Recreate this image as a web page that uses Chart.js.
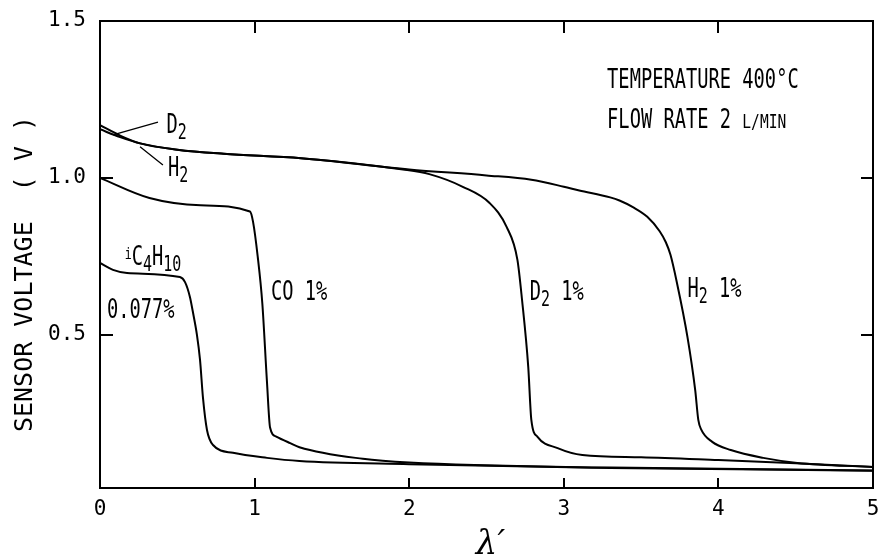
<!DOCTYPE html>
<html>
<head>
<meta charset="utf-8">
<title>Sensor voltage vs lambda</title>
<script src="https://cdn.jsdelivr.net/npm/chart.js@4.4.1/dist/chart.umd.min.js"></script>
<style>
  html, body { margin: 0; padding: 0; background: #fff; }
  #wrap { width: 881px; height: 555px; }
</style>
</head>
<body>
<div id="wrap"><canvas id="chart" width="881" height="555"></canvas></div>
<script>
// values (x = lambda', y = sensor voltage in V)
const h2X  = [0, 0.13, 0.26, 0.5, 0.8, 1.3, 2.0, 2.5, 2.79, 3.0, 3.1, 3.3, 3.36, 3.45, 3.54, 3.62, 3.66, 3.69, 3.73, 3.80, 3.85, 3.87, 3.89, 3.96, 4.08, 4.29, 4.51, 5.0];
const h2Y  = [1.155, 1.13, 1.11, 1.09, 1.077, 1.063, 1.027, 1.008, 0.994, 0.972, 0.96, 0.938, 0.928, 0.906, 0.876, 0.83, 0.795, 0.755, 0.67, 0.493, 0.324, 0.229, 0.197, 0.159, 0.133, 0.108, 0.092, 0.079];

const d2X  = [0, 0.13, 0.26, 0.5, 0.8, 1.3, 1.96, 2.13, 2.35, 2.52, 2.63, 2.70, 2.73, 2.77, 2.79, 2.83, 2.96, 3.12, 3.5, 4.0, 4.5, 5.0];
const d2Y  = [1.168, 1.135, 1.11, 1.09, 1.077, 1.063, 1.027, 1.012, 0.971, 0.92, 0.844, 0.739, 0.611, 0.398, 0.229, 0.175, 0.139, 0.117, 0.11, 0.101, 0.091, 0.079];

const coX  = [0, 0.32, 0.65, 0.97, 0.99, 1.02, 1.05, 1.08, 1.10, 1.14, 1.23, 1.29, 1.70, 2.0, 3.3, 5.0];
const coY  = [1.0, 0.936, 0.913, 0.893, 0.86, 0.75, 0.60, 0.35, 0.205, 0.176, 0.155, 0.142, 0.105, 0.093, 0.077, 0.068];

const butX = [0, 0.084, 0.175, 0.517, 0.55, 0.582, 0.60, 0.627, 0.647, 0.666, 0.692, 0.731, 0.86, 1.08, 1.29, 2.0, 3.3, 5.0];
const butY = [0.729, 0.707, 0.697, 0.684, 0.668, 0.62, 0.575, 0.50, 0.42, 0.30, 0.197, 0.149, 0.124, 0.108, 0.098, 0.088, 0.076, 0.067];

const xTicks = [0, 1, 2, 3, 4, 5];
const yTicks = [0.5, 1.0, 1.5];

const MONO = '"DejaVu Sans Mono", "Liberation Mono", monospace';

// text placed in data coordinates; parts: [text, style]
const notes = [
  { x: 3.28, y: 1.287, parts: [['TEMPERATURE 400°C']] },
  { x: 3.28, y: 1.159, parts: [['FLOW RATE 2 '], ['L/MIN', 'small']] },
  { x: 0.43, y: 1.143, parts: [['D'], ['2', 'sub']] },
  { x: 0.44, y: 1.006, parts: [['H'], ['2', 'sub']] },
  { x: 0.16, y: 0.723, parts: [['i', 'sup'], ['C'], ['4', 'sub'], ['H'], ['10', 'sub']] },
  { x: 0.045, y: 0.554, parts: [['0.077%']] },
  { x: 1.106, y: 0.611, parts: [['CO 1%']] },
  { x: 2.78, y: 0.611, parts: [['D'], ['2', 'sub'], [' 1%']] },
  { x: 3.80, y: 0.621, parts: [['H'], ['2', 'sub'], [' 1%']] }
];

const leaders = [
  [0.084, 1.137, 0.375, 1.178],
  [0.259, 1.099, 0.407, 1.041]
];

function toPoints(xs, ys) {
  return xs.map((x, i) => ({ x: x, y: ys[i] }));
}

function curve(label, xs, ys) {
  return {
    label: label,
    data: toPoints(xs, ys),
    borderColor: '#000',
    borderWidth: 2,
    pointRadius: 0,
    fill: false,
    cubicInterpolationMode: 'monotone'
  };
}

function drawRich(ctx, x, y, parts, size, sx) {
  ctx.save();
  ctx.translate(x, y);
  ctx.scale(sx, 1);
  ctx.textBaseline = 'alphabetic';
  ctx.textAlign = 'left';
  let cx = 0;
  parts.forEach(p => {
    const style = p[1];
    let fs = size, dy = 0;
    if (style === 'sub') { fs = size * 0.8; dy = 6; }
    if (style === 'sup') { fs = size * 0.62; dy = -6; }
    if (style === 'small') { fs = size * 0.78; }
    ctx.font = fs + 'px ' + MONO;
    ctx.fillText(p[0], cx, dy);
    cx += ctx.measureText(p[0]).width;
  });
  ctx.restore();
}

const framePlugin = {
  id: 'frame',
  beforeDraw(chart) {
    const ctx = chart.ctx;
    ctx.save();
    ctx.fillStyle = '#fff';
    ctx.fillRect(0, 0, chart.width, chart.height);
    ctx.restore();
  },
  afterDraw(chart) {
    const ctx = chart.ctx;
    const a = chart.chartArea;
    const xs = chart.scales.x, ys = chart.scales.y;
    ctx.save();
    ctx.strokeStyle = '#000';
    ctx.fillStyle = '#000';
    ctx.lineWidth = 2;
    ctx.strokeRect(a.left, a.top, a.right - a.left, a.bottom - a.top);

    // inward tick marks
    ctx.beginPath();
    xTicks.slice(1, -1).forEach(v => {
      const px = Math.round(xs.getPixelForValue(v));
      ctx.moveTo(px, a.bottom); ctx.lineTo(px, a.bottom - 10);
      ctx.moveTo(px, a.top); ctx.lineTo(px, a.top + 12);
    });
    yTicks.slice(0, -1).forEach(v => {
      const py = Math.round(ys.getPixelForValue(v));
      ctx.moveTo(a.left, py); ctx.lineTo(a.left + 13, py);
      ctx.moveTo(a.right, py); ctx.lineTo(a.right - 12, py);
    });
    ctx.stroke();

    // leader lines for D2 / H2
    ctx.lineWidth = 1.3;
    ctx.beginPath();
    leaders.forEach(l => {
      ctx.moveTo(xs.getPixelForValue(l[0]), ys.getPixelForValue(l[1]));
      ctx.lineTo(xs.getPixelForValue(l[2]), ys.getPixelForValue(l[3]));
    });
    ctx.stroke();

    notes.forEach(n => {
      drawRich(ctx, xs.getPixelForValue(n.x), ys.getPixelForValue(n.y), n.parts, 26, 0.72);
    });

    // axis titles
    ctx.save();
    ctx.translate(32, 274);
    ctx.rotate(-Math.PI / 2);
    ctx.font = '25px ' + MONO;
    ctx.textAlign = 'center';
    ctx.textBaseline = 'alphabetic';
    ctx.fillText('SENSOR VOLTAGE  ( V )', 0, 0);
    ctx.restore();

    ctx.font = 'italic 34px "DejaVu Serif", serif';
    ctx.textAlign = 'center';
    ctx.textBaseline = 'alphabetic';
    ctx.fillText('λ\u2032', (a.left + a.right) / 2 + 4, 554);
    ctx.restore();
  }
};

new Chart(document.getElementById('chart'), {
  type: 'line',
  data: {
    datasets: [
      curve('H2 1%', h2X, h2Y),
      curve('D2 1%', d2X, d2Y),
      curve('CO 1%', coX, coY),
      curve('iC4H10 0.077%', butX, butY)
    ]
  },
  options: {
    responsive: false,
    animation: false,
    devicePixelRatio: 1,
    layout: { padding: { top: 21, right: 8, left: 0, bottom: 0 } },
    plugins: {
      legend: { display: false },
      tooltip: { enabled: false }
    },
    scales: {
      x: {
        type: 'linear',
        min: 0,
        max: 5,
        afterBuildTicks: s => { s.ticks = xTicks.map(v => ({ value: v })); },
        ticks: {
          color: '#000',
          font: { family: MONO, size: 21 },
          padding: 9,
          maxRotation: 0,
          callback: v => String(v)
        },
        grid: { display: false, drawTicks: false },
        border: { display: false },
        afterFit: s => { s.height = 67; s.paddingLeft = 0; s.paddingRight = 0; }
      },
      y: {
        type: 'linear',
        min: 0.012,
        max: 1.5,
        afterBuildTicks: s => { s.ticks = yTicks.map(v => ({ value: v })); },
        ticks: {
          color: '#000',
          font: { family: MONO, size: 21 },
          padding: 14,
          callback: v => Number(v).toFixed(1)
        },
        grid: { display: false, drawTicks: false },
        border: { display: false },
        afterFit: s => { s.width = 100; s.paddingTop = 0; s.paddingBottom = 0; }
      }
    }
  },
  plugins: [framePlugin]
});
</script>
</body>
</html>
